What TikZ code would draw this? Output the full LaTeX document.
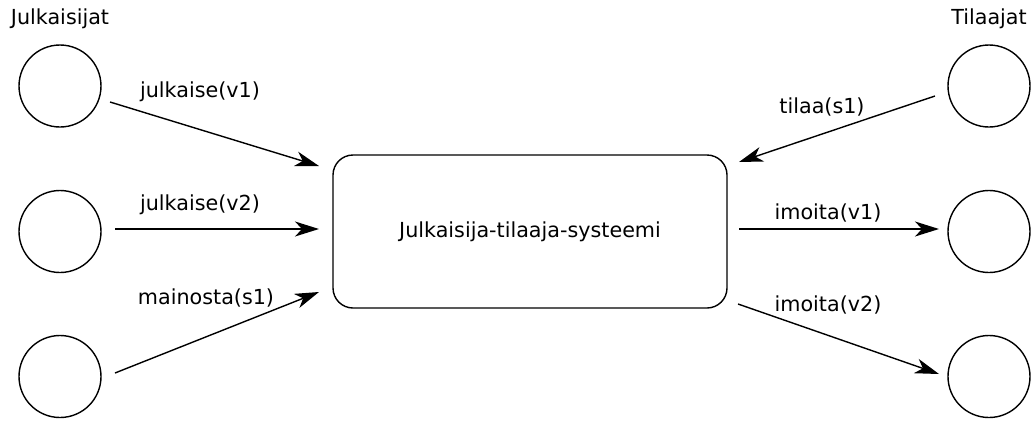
\documentclass[tikz,border=0pt]{standalone}
\usepackage{fontspec}
\setmainfont{DejaVu Sans}
\usetikzlibrary{arrows.meta}
\begin{document}
\begin{tikzpicture}[x=1pt,y=-1pt,
  every node/.style={font=\fontsize{20.7}{24}\selectfont},
  actor/.style={circle,draw,line width=1.4pt,minimum size=82pt,inner sep=0pt},
  sysbox/.style={draw,line width=1.4pt,rounded corners=20pt,minimum width=394pt,minimum height=153pt},
  flow/.style={line width=1.4pt,-{Stealth[length=24pt,width=15pt,inset=7pt]}},
  lbl/.style={inner sep=0pt,anchor=base}]
\useasboundingbox (0,0) rectangle (1031,421);
\node[actor] (p1) at (60,86) {};
\node[actor] (p2) at (60,231.5) {};
\node[actor] (p3) at (60,376.5) {};
\node[actor] (s1) at (989,86) {};
\node[actor] (s2) at (989,231.5) {};
\node[actor] (s3) at (989,376.5) {};
\node[sysbox] (sys) at (530,231.5) {Julkaisija-tilaaja-systeemi};
\node[lbl] (tp) at (60,24) {Julkaisijat};
\node[lbl] (ts) at (989,24) {Tilaajat};
\coordinate (a1s) at (110,102);
\coordinate (a1e) at (319,166);
\coordinate (a2s) at (115,229);
\coordinate (a2e) at (319,229);
\coordinate (a3s) at (115,373);
\coordinate (a3e) at (319,292);
\coordinate (b1s) at (935,96);
\coordinate (b1e) at (739,162);
\coordinate (b2s) at (739,229);
\coordinate (b2e) at (939,229);
\coordinate (b3s) at (738,304);
\coordinate (b3e) at (939,374);
\draw[flow] (a1s) -- (a1e);
\draw[flow] (a2s) -- (a2e);
\draw[flow] (a3s) -- (a3e);
\draw[flow] (b1s) -- (b1e);
\draw[flow] (b2s) -- (b2e);
\draw[flow] (b3s) -- (b3e);
\node[lbl] (l1) at (200,97) {julkaise(v1)};
\node[lbl] (l2) at (200,210) {julkaise(v2)};
\node[lbl] (l3) at (206,304) {mainosta(s1)};
\node[lbl] (l4) at (822,113) {tilaa(s1)};
\node[lbl] (l5) at (828,219) {imoita(v1)};
\node[lbl] (l6) at (828,311) {imoita(v2)};
\end{tikzpicture}
\end{document}
